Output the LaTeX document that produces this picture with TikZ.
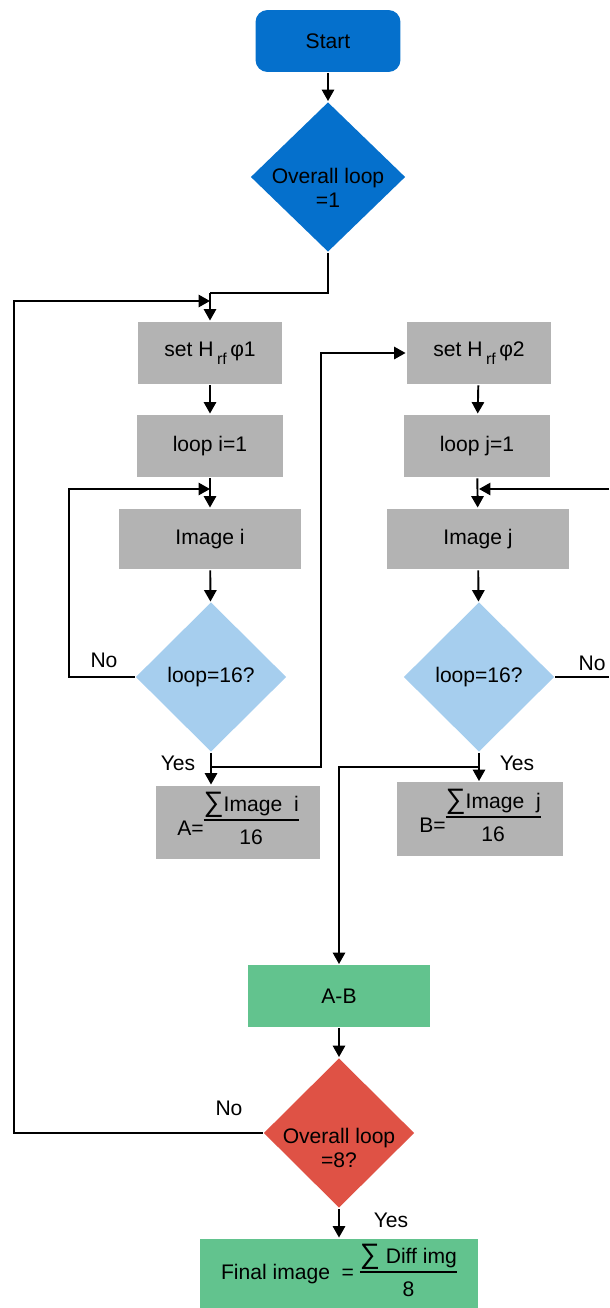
\documentclass[tikz,border=0pt]{standalone}
\usepackage{fontspec}
\setmainfont{Liberation Sans}
\usetikzlibrary{shapes.geometric,arrows.meta}
\definecolor{startblue}{RGB}{5,112,204}
\definecolor{boxgray}{RGB}{179,179,179}
\definecolor{loopblue}{RGB}{166,206,238}
\definecolor{diffgreen}{RGB}{98,195,142}
\definecolor{endred}{RGB}{223,82,69}
% fraccion con barra gruesa, alineada por la fila de abajo
\newcommand{\sumfrac}[2]{{\setlength{\arrayrulewidth}{1.3pt}%
  \begin{tabular}[b]{@{}c@{}}#1\\\hline\rule{0pt}{13pt}#2\end{tabular}}}
\newcommand{\bigsum}{{\fontsize{16}{16}\selectfont ∑}}
\newcommand{\Hrf}{H\,\raisebox{-4.5pt}{\small rf}\,}
\begin{document}
\begin{tikzpicture}[x=0.02cm, y=-0.02cm,
    every node/.style={font=\fontsize{12}{14}\selectfont, align=center},
    proc/.style={rectangle, fill=boxgray, inner sep=0pt},
    decis/.style={diamond, inner sep=0pt, minimum width=3.02cm, minimum height=3cm},
    arr/.style={-{Triangle[length=6.5pt,width=7pt]}},
    line width=1.1pt]
    \useasboundingbox (0,0) rectangle (609,1308);
    % Inicio y lazo general
    \node[rectangle, rounded corners=0.24cm, fill=startblue, minimum width=2.9cm, minimum height=1.24cm] (start) at (328,41) {Start};
    \node[decis, fill=startblue, minimum width=3.1cm] (ovl1) at (328,177) {};
    \node (ovl1txt) at (328,188) {Overall loop\\=1};
    % Columna izquierda (phi 1)
    \node[proc, minimum width=2.9cm, minimum height=1.26cm] (seth1) at (210,353) {set \Hrf φ1};
    \node[proc, minimum width=2.92cm, minimum height=1.26cm] (loopi) at (210,446) {loop i=1};
    \node[proc, minimum width=3.64cm, minimum height=1.22cm] (imgi) at (210,539) {Image i};
    \node[decis, fill=loopblue] (di) at (211,677) {loop=16?};
    \node[proc, minimum width=3.3cm, minimum height=1.46cm] (Abox) at (238,822) {A=\raisebox{-5pt}{\sumfrac{\bigsum Image\ \ i}{16}}};
    % Columna derecha (phi 2)
    \node[proc, minimum width=2.9cm, minimum height=1.26cm] (seth2) at (479,353) {set \Hrf φ2};
    \node[proc, minimum width=2.92cm, minimum height=1.26cm] (loopj) at (477,446) {loop j=1};
    \node[proc, minimum width=3.64cm, minimum height=1.22cm] (imgj) at (478,539) {Image j};
    \node[decis, fill=loopblue] (dj) at (479,677) {loop=16?};
    \node[proc, minimum width=3.32cm, minimum height=1.48cm] (Bbox) at (480,819) {B=\raisebox{-5pt}{\sumfrac{\bigsum Image\ \ j}{16}}};
    % Diferencia y final
    \node[rectangle, fill=diffgreen, minimum width=3.64cm, minimum height=1.24cm] (AB) at (339,996) {A-B};
    \node[decis, fill=endred] (ovl8) at (339,1133) {};
    \node (ovl8txt) at (339,1148) {Overall loop\\=8?};
    \node[rectangle, fill=diffgreen, minimum width=5.56cm, minimum height=1.36cm] (final) at (339,1274) {Final image \ = \raisebox{-9.5pt}{\sumfrac{\bigsum\ Diff img}{8}}};
    % Puntos de union
    \coordinate (j1) at (210,293);
    \coordinate (lb) at (14,301);
    \coordinate (lbin) at (210,301);
    \coordinate (li) at (69,489);
    \coordinate (liin) at (210,489);
    \coordinate (yi) at (211,767);
    \coordinate (ri) at (321,767);
    \coordinate (rj) at (609,489);
    \coordinate (rjin) at (479,489);
    \coordinate (nj) at (609,677);
    \coordinate (yj) at (479,767);
    % Conectores
    \draw[arr] (start) -- (ovl1);
    \draw (ovl1.south) |- (j1);
    \draw[arr] (j1) -- (seth1);
    \draw[arr] (ovl8.west) -| (lb) -- (lbin);
    \draw[arr] (seth1) -- (loopi);
    \draw[arr] (loopi) -- (imgi);
    \draw[arr] (imgi) -- (di);
    \draw[arr] (di.west) -| (li) -- (liin);
    \draw[arr] (di.south) -- (di.south |- Abox.north);
    \draw[arr] (yi) -- (ri) |- (seth2.west);
    \draw[arr] (seth2) -- (loopj);
    \draw[arr] (loopj) -- (imgj);
    \draw[arr] (imgj) -- (dj);
    \draw[arr] (rj) -- (rjin);
    \draw (dj.east) -- (nj);
    \draw[arr] (dj.south) -- (dj.south |- Bbox.north);
    \draw[arr] (yj) -| (AB.north);
    \draw[arr] (AB) -- (ovl8);
    \draw[arr] (ovl8) -- (final);
    % Etiquetas
    \node (noi) at (104,660) {No};
    \node (yesi) at (178,763) {Yes};
    \node (noj) at (592,663) {No};
    \node (yesj) at (517,763) {Yes};
    \node (no8) at (229,1108) {No};
    \node (yes8) at (391,1220) {Yes};
\end{tikzpicture}
\end{document}
